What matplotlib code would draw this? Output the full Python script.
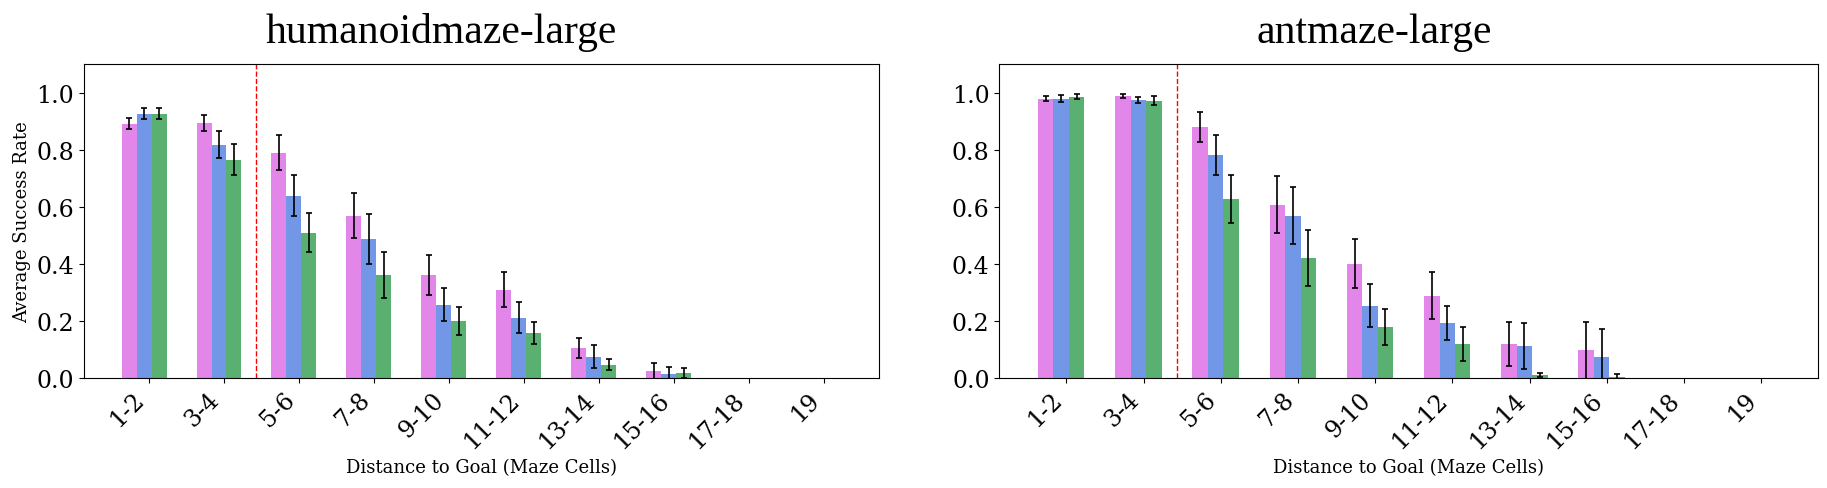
import numpy as np
import matplotlib.pyplot as plt

plt.rcParams['font.family'] = 'DejaVu Serif'

categories = ['1-2', '3-4', '5-6', '7-8', '9-10', '11-12', '13-14', '15-16', '17-18', '19']

# humanoidmaze-large
hum_pink = [0.891, 0.895, 0.789, 0.568, 0.361, 0.309, 0.105, 0.025, 0.0, 0.0]
hum_pink_err = [0.020, 0.028, 0.061, 0.079, 0.070, 0.062, 0.036, 0.027, 0.0, 0.0]
hum_blue = [0.926, 0.818, 0.639, 0.488, 0.256, 0.211, 0.074, 0.014, 0.0, 0.0]
hum_blue_err = [0.019, 0.046, 0.071, 0.088, 0.058, 0.055, 0.040, 0.026, 0.0, 0.0]
hum_green = [0.926, 0.765, 0.509, 0.361, 0.200, 0.158, 0.046, 0.018, 0.0, 0.0]
hum_green_err = [0.020, 0.054, 0.068, 0.081, 0.050, 0.039, 0.019, 0.018, 0.0, 0.0]

# antmaze-large
ant_pink = [0.979, 0.988, 0.880, 0.607, 0.400, 0.288, 0.119, 0.097, 0.0, 0.0]
ant_pink_err = [0.010, 0.006, 0.053, 0.100, 0.086, 0.082, 0.078, 0.100, 0.0, 0.0]
ant_blue = [0.979, 0.975, 0.782, 0.568, 0.253, 0.193, 0.112, 0.072, 0.0, 0.0]
ant_blue_err = [0.013, 0.011, 0.070, 0.100, 0.075, 0.060, 0.082, 0.098, 0.0, 0.0]
ant_green = [0.986, 0.972, 0.628, 0.421, 0.179, 0.119, 0.010, 0.005, 0.0, 0.0]
ant_green_err = [0.009, 0.016, 0.084, 0.098, 0.063, 0.058, 0.007, 0.010, 0.0, 0.0]

colors = ['#E286EA', '#7197E6', '#5AB070']
width = 0.2

fig = plt.figure(figsize=(18.27, 4.89), dpi=100)
ax1 = fig.add_axes([0.046, 0.225, 0.435, 0.642])
ax2 = fig.add_axes([0.547, 0.225, 0.448, 0.642])

panels = [
    (ax1, 'humanoidmaze-large', [hum_pink, hum_blue, hum_green],
     [hum_pink_err, hum_blue_err, hum_green_err], 0.45),
    (ax2, 'antmaze-large', [ant_pink, ant_blue, ant_green],
     [ant_pink_err, ant_blue_err, ant_green_err], 0.458),
]

x = np.arange(len(categories))
for ax, title, means, errs, tx in panels:
    for j in range(3):
        pos = x + (j - 1) * width
        m = np.array(means[j])
        e = np.array(errs[j])
        ax.bar(pos, m, width, color=colors[j])
        # only draw error bars where there is something to show
        keep = e > 0
        ax.errorbar(pos[keep], m[keep], yerr=e[keep], fmt='none', ecolor='black',
                    elinewidth=1.2, capsize=2.5, capthick=1.2)
    ax.axvline(1.5, color='red', linestyle='--', linewidth=1)
    ax.set_xlim(-0.8, 9.8)
    ax.set_ylim(0, 1.1)
    ax.set_xticks(x + 0.067)
    ax.set_xticklabels(categories, rotation=45, ha='right', fontsize=17)
    ax.set_yticks([0.0, 0.2, 0.4, 0.6, 0.8, 1.0])
    ax.tick_params(axis='y', labelsize=17)
    ax.set_xlabel('Distance to Goal (Maze Cells)', fontsize=13)
    ax.set_title(title, fontsize=30, family='Liberation Serif', pad=16, x=tx)

ax1.set_ylabel('Average Success Rate', fontsize=13)

plt.savefig('out.png', dpi=100)
